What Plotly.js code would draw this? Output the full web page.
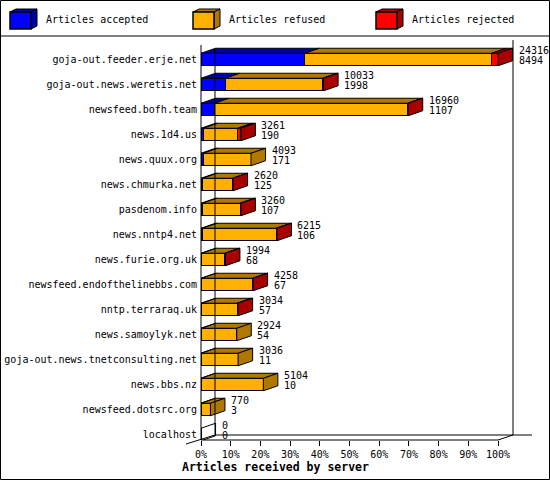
<!DOCTYPE html>
<html>
<head>
<meta charset="utf-8">
<script src="https://cdn.plot.ly/plotly-3.0.1.min.js"></script>
<style>
  html, body { margin: 0; padding: 0; background: #fff; }
  #chart { width: 550px; height: 480px; }
</style>
</head>
<body>
<div id="chart"></div>
<script>
// servers, top to bottom
const servers = [
  "goja-out.feeder.erje.net", "goja-out.news.weretis.net", "newsfeed.bofh.team",
  "news.1d4.us", "news.quux.org", "news.chmurka.net", "pasdenom.info",
  "news.nntp4.net", "news.furie.org.uk", "newsfeed.endofthelinebbs.com",
  "nntp.terraraq.uk", "news.samoylyk.net", "goja-out.news.tnetconsulting.net",
  "news.bbs.nz", "newsfeed.dotsrc.org", "localhost"
];
// printed numbers next to the bars
const offered  = [24316, 10033, 16960, 3261, 4093, 2620, 3260, 6215, 1994, 4258, 3034, 2924, 3036, 5104, 770, 0];
const accepted = [8494, 1998, 1107, 190, 171, 125, 107, 106, 68, 67, 57, 54, 11, 10, 3, 0];
const refused  = [15306, 7966, 15813, 2817, 3922, 2475, 3087, 6049, 1872, 4167, 2891, 2870, 3025, 5094, 767, 0];
const rejected = [516, 69, 40, 254, 0, 20, 66, 60, 54, 24, 86, 0, 0, 0, 0, 0];

const seriesNames = ["Articles accepted", "Articles refused", "Articles rejected"];
const fronts = ["#0000ff", "#ffb000", "#ff0000"];
const shades = ["#0000a8", "#b07800", "#a80000"];
const tickPct = [0, 10, 20, 30, 40, 50, 60, 70, 80, 90, 100];

const FONT = "DejaVu Sans Mono, Liberation Mono, monospace";

// plot box in pixels: x 201..550 (0%..117.5%), y 40..440
const L = 201, T = 40, W = 349, H = 400;
const X = (px) => (px - L) / W;
const Y = (py) => (T + H - py) / H;

const maxTotal = Math.max(...offered);
const pct = (arr) => arr.map((v) => (v / maxTotal) * 100);
const idx = servers.map((s, i) => i);
const series = [accepted, refused, rejected];

const traces = series.map((vals, k) => ({
  type: "bar",
  orientation: "h",
  name: seriesNames[k],
  y: idx,
  x: pct(vals),
  width: 0.5,
  marker: { color: fronts[k], line: { color: "#000", width: 1 } },
  hoverinfo: "skip",
  showlegend: false,
}));

const shapes = [];
const annotations = [];
const dx = 4.9, dy = 0.2;

idx.forEach((i) => {
  const yTop = i - 0.25, yBot = i + 0.25;
  let start = 0, last = -1, end = 0;
  series.forEach((vals, k) => {
    const w = (vals[i] / maxTotal) * 100;
    if (w > 0) {
      const a = start, b = start + w;
      shapes.push({
        type: "path", xref: "x", yref: "y",
        path: `M${a},${yTop}L${b},${yTop}L${b + dx},${yTop - dy}L${a + dx},${yTop - dy}Z`,
        fillcolor: shades[k], line: { color: "#000", width: 1 },
      });
      last = k;
      start = b;
    }
  });
  end = start;
  shapes.push({
    type: "path", xref: "x", yref: "y",
    path: `M${end},${yTop}L${end + dx},${yTop - dy}L${end + dx},${yBot - dy}L${end},${yBot}Z`,
    fillcolor: last >= 0 ? shades[last] : "rgba(0,0,0,0)",
    line: { color: "#000", width: 1 },
  });
  annotations.push({
    x: end + dx, y: i, xref: "x", yref: "y", xanchor: "left", yanchor: "middle",
    xshift: 4, yshift: 9.5, showarrow: false, text: String(offered[i]),
    font: { family: FONT, size: 10, color: "#000" },
  });
  annotations.push({
    x: end + dx, y: i, xref: "x", yref: "y", xanchor: "left", yanchor: "middle",
    xshift: 4, yshift: -1, showarrow: false, text: String(accepted[i]),
    font: { family: FONT, size: 10, color: "#000" },
  });
});

// frame and 3d axis lines
function pline(x0, y0, x1, y1) {
  shapes.push({
    type: "line", xref: "paper", yref: "paper",
    x0: X(x0), y0: Y(y0), x1: X(x1), y1: Y(y1),
    line: { color: "#000", width: 1 },
  });
}
pline(201, 45, 201, 440);
pline(201, 440, 498, 440);
pline(215, 49, 215, 435);
pline(215, 435, 532, 435);
pline(513, 40, 513, 435);
pline(498, 440, 513, 435);
pline(186, 444, 215, 435);
pline(0, 36, 550, 36);
shapes.push({
  type: "rect", xref: "paper", yref: "paper",
  x0: X(0.5), y0: Y(0.5), x1: X(549.5), y1: Y(479.5),
  line: { color: "#000", width: 1 },
});

// legend cubes
seriesNames.forEach((name, k) => {
  const x = 10 + 183 * k, y0 = 12, y1 = 29, w = 21, d = 6, u = 3;
  const P = (px, py) => `${X(px)},${Y(py)}`;
  shapes.push({
    type: "path", xref: "paper", yref: "paper",
    path: `M${P(x, y0)}L${P(x + d, y0 - u)}L${P(x + w + d, y0 - u)}L${P(x + w, y0)}Z`,
    fillcolor: shades[k], line: { color: "#000", width: 1 },
  });
  shapes.push({
    type: "path", xref: "paper", yref: "paper",
    path: `M${P(x + w, y0)}L${P(x + w + d, y0 - u)}L${P(x + w + d, y1 - u)}L${P(x + w, y1)}Z`,
    fillcolor: shades[k], line: { color: "#000", width: 1 },
  });
  shapes.push({
    type: "rect", xref: "paper", yref: "paper",
    x0: X(x), y0: Y(y1), x1: X(x + w), y1: Y(y0),
    fillcolor: fronts[k], line: { color: "#000", width: 1.5 },
  });
  annotations.push({
    x: X(x + 34), y: Y(20), xref: "paper", yref: "paper",
    xanchor: "left", yanchor: "middle", showarrow: false, text: name,
    font: { family: FONT, size: 10, color: "#000" },
  });
});

annotations.push({
  x: X(180), y: Y(467), xref: "paper", yref: "paper",
  xanchor: "left", yanchor: "middle", showarrow: false,
  text: "<b>Articles received by server</b>",
  font: { family: FONT, size: 11.5, color: "#000" },
});

const layout = {
  width: 550, height: 480,
  margin: { l: L, r: 550 - L - W, t: T, b: 480 - T - H, pad: 0 },
  paper_bgcolor: "#fff", plot_bgcolor: "#fff",
  barmode: "stack",
  showlegend: false,
  font: { family: FONT, size: 10, color: "#000" },
  xaxis: {
    range: [0, 117.5], tickvals: tickPct, ticktext: tickPct.map((v) => v + "%"),
    ticks: "outside", ticklen: 5, tickcolor: "#000", showgrid: false,
    zeroline: false, showline: false, fixedrange: true,
    tickfont: { family: FONT, size: 10, color: "#000" },
  },
  yaxis: {
    range: [15.22, -0.78], tickvals: idx, ticktext: servers, ticks: "",
    showgrid: false, zeroline: false, showline: false, fixedrange: true,
    ticklabelstandoff: 3,
    tickfont: { family: FONT, size: 10, color: "#000" },
  },
  shapes: shapes,
  annotations: annotations,
};

Plotly.newPlot("chart", traces, layout, { staticPlot: true, displayModeBar: false });
</script>
</body>
</html>
